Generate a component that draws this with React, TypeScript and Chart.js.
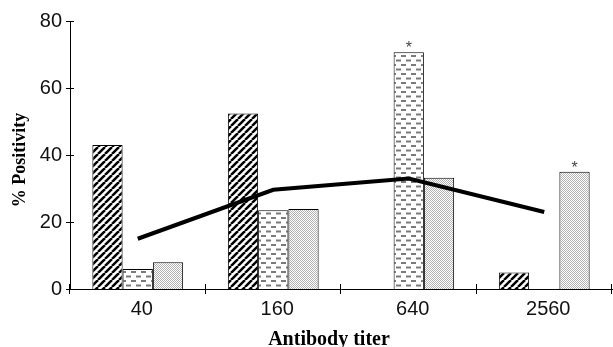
import React, { useEffect, useRef } from 'react';
import { Chart, registerables } from 'chart.js';

Chart.register(...registerables);

const categories = ['40', '160', '640', '2560'];
const seriesHatched: (number | null)[] = [43, 52.4, null, 4.9];
const seriesDashed: (number | null)[] = [6, 23.5, 70.7, null];
const seriesDotted: (number | null)[] = [8, 23.9, 33.2, 35];
const lineValues = [15, 29.6, 33, 23];
const starDashed = [false, false, true, false];
const starDotted = [false, false, false, true];
const yMin = 0;
const yMax = 80;
const yStep = 20;
const xTitle = 'Antibody titer';
const yTitle = '% Positivity';

function makeHatch(ctx: CanvasRenderingContext2D) {
  const s = 7;
  const c = document.createElement('canvas');
  c.width = s;
  c.height = s;
  const g = c.getContext('2d')!;
  g.fillStyle = '#fff';
  g.fillRect(0, 0, s, s);
  g.strokeStyle = '#000';
  g.lineWidth = 2.5;
  for (let k = -1; k <= 1; k++) {
    g.beginPath();
    g.moveTo(k * s, s);
    g.lineTo(k * s + s, 0);
    g.stroke();
  }
  return ctx.createPattern(c, 'repeat')!;
}

function makeDashes(ctx: CanvasRenderingContext2D) {
  const c = document.createElement('canvas');
  c.width = 10;
  c.height = 9;
  const g = c.getContext('2d')!;
  g.fillStyle = '#fff';
  g.fillRect(0, 0, 10, 9);
  g.fillStyle = '#7a7a7a';
  g.fillRect(1, 1, 5, 2);
  g.fillRect(6, 5.5, 5, 2);
  g.fillRect(-4, 5.5, 5, 2);
  return ctx.createPattern(c, 'repeat')!;
}

function makeDots(ctx: CanvasRenderingContext2D) {
  const c = document.createElement('canvas');
  c.width = 2;
  c.height = 2;
  const g = c.getContext('2d')!;
  g.fillStyle = '#fff';
  g.fillRect(0, 0, 2, 2);
  g.fillStyle = '#b4b4b4';
  g.fillRect(0, 0, 1, 1);
  g.fillRect(1, 1, 1, 1);
  return ctx.createPattern(c, 'repeat')!;
}

const decorPlugin = {
  id: 'decor',
  afterDatasetsDraw(chart: any) {
    const ctx: CanvasRenderingContext2D = chart.ctx;
    ctx.save();
    ctx.fillStyle = '#444';
    ctx.font = '16px "Liberation Sans", Arial, sans-serif';
    ctx.textAlign = 'center';
    ctx.textBaseline = 'alphabetic';
    const stars: [number, boolean[]][] = [
      [2, starDashed],
      [3, starDotted],
    ];
    stars.forEach(([di, flags]) => {
      const meta = chart.getDatasetMeta(di);
      flags.forEach((f, i) => {
        if (!f) return;
        const el = meta.data[i];
        if (!el) return;
        ctx.fillText('*', el.x, el.y + 1);
      });
    });
    ctx.restore();
  },
  afterDraw(chart: any) {
    const ctx: CanvasRenderingContext2D = chart.ctx;
    const { left, right, top, bottom } = chart.chartArea;
    const xs = chart.scales.x;
    const ys = chart.scales.y;
    ctx.save();
    ctx.strokeStyle = '#000';
    ctx.lineWidth = 1;
    ys.ticks.forEach((t: any) => {
      const y = Math.round(ys.getPixelForValue(t.value)) + 0.5;
      ctx.beginPath();
      ctx.moveTo(left - 4, y);
      ctx.lineTo(left + 4, y);
      ctx.stroke();
    });
    const n = categories.length;
    for (let i = 0; i <= n; i++) {
      const x = Math.round(xs.left + (i * (xs.right - xs.left)) / n) - 0.5;
      ctx.beginPath();
      ctx.moveTo(x, bottom - 5);
      ctx.lineTo(x, bottom + 5);
      ctx.stroke();
    }
    ctx.fillStyle = '#000';
    ctx.font = 'bold 20px "Liberation Serif", "Times New Roman", serif';
    ctx.textAlign = 'center';
    ctx.textBaseline = 'alphabetic';
    ctx.fillText(xTitle, (left + right) / 2 - 12, chart.height - 2);
    ctx.translate(25, (top + bottom) / 2 + 5);
    ctx.rotate(-Math.PI / 2);
    ctx.font = 'bold 18px "Liberation Serif", "Times New Roman", serif';
    ctx.fillText(yTitle, 0, 0);
    ctx.restore();
  },
};

export default function App() {
  const ref = useRef<HTMLCanvasElement | null>(null);

  useEffect(() => {
    const canvas = ref.current;
    if (!canvas) return;
    const ctx = canvas.getContext('2d')!;
    const tickFont = { family: '"Liberation Sans", Arial, sans-serif', size: 20 };
    const chart = new Chart(ctx, {
      type: 'bar',
      data: {
        labels: categories,
        datasets: [
          {
            type: 'line',
            label: 'Mean',
            data: lineValues,
            borderColor: '#000',
            borderWidth: 4,
            pointRadius: 0,
            tension: 0,
            fill: false,
            order: 0,
          } as any,
          {
            label: 'Series A',
            data: seriesHatched,
            backgroundColor: makeHatch(ctx),
            borderColor: '#000',
            borderWidth: 1,
            order: 1,
          },
          {
            label: 'Series B',
            data: seriesDashed,
            backgroundColor: makeDashes(ctx),
            borderColor: '#000',
            borderWidth: 1,
            order: 1,
          },
          {
            label: 'Series C',
            data: seriesDotted,
            backgroundColor: makeDots(ctx),
            borderColor: '#000',
            borderWidth: 1,
            order: 1,
          },
        ],
      },
      options: {
        responsive: true,
        maintainAspectRatio: false,
        animation: false,
        devicePixelRatio: 1,
        layout: { padding: { top: 21, right: 1, left: 0, bottom: 0 } },
        datasets: {
          bar: { categoryPercentage: 0.67, barPercentage: 1 },
        },
        plugins: {
          legend: { display: false },
          tooltip: { enabled: false },
        },
        scales: {
          x: {
            type: 'category',
            offset: true,
            grid: { display: false, drawTicks: false },
            border: { display: true, color: '#000', width: 1 },
            ticks: { font: tickFont, color: '#111', padding: 8, labelOffset: 4 },
            afterFit: (s: any) => {
              s.height = 58;
            },
          },
          y: {
            min: yMin,
            max: yMax,
            grid: { display: false, drawTicks: false },
            border: { display: true, color: '#000', width: 1 },
            ticks: { stepSize: yStep, font: tickFont, color: '#111', padding: 8 },
            afterFit: (s: any) => {
              s.width = 70;
            },
          },
        },
      } as any,
      plugins: [decorPlugin],
    });
    return () => chart.destroy();
  }, []);

  return (
    <div style={{ position: 'absolute', left: 0, top: 0, width: 613, height: 347, background: '#fff' }}>
      <canvas ref={ref} />
    </div>
  );
}
